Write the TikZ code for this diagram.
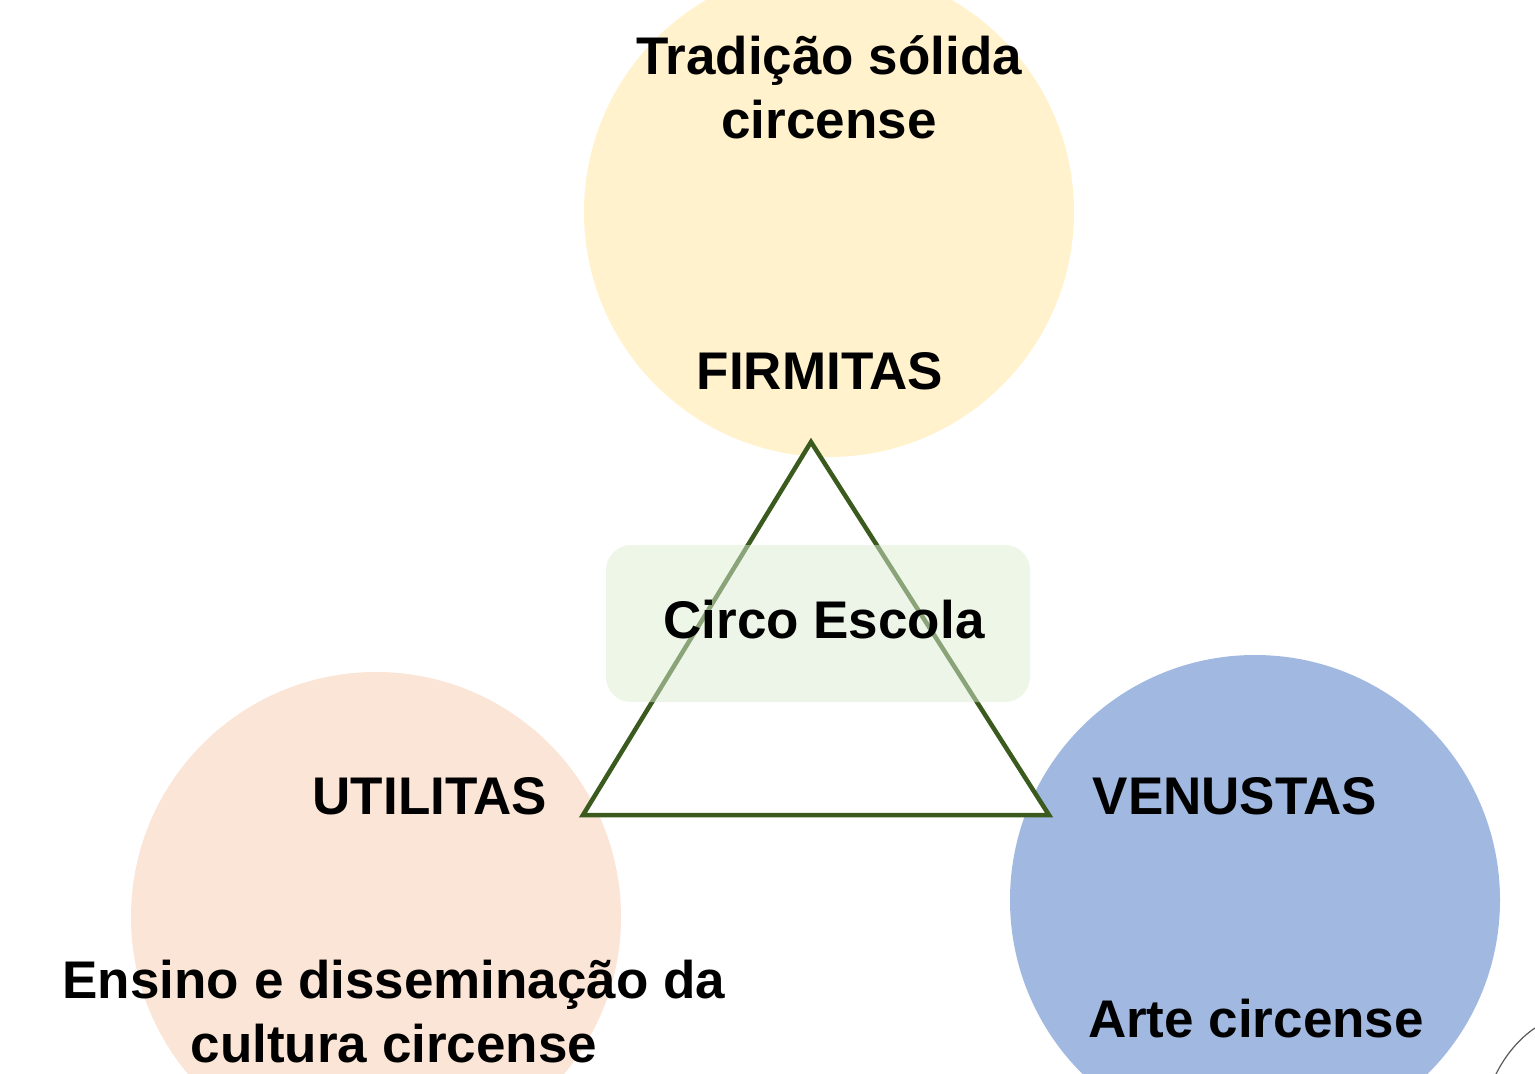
\documentclass[tikz,border=0pt]{standalone}
\usepackage{fontspec}
\setmainfont{Liberation Sans}
\begin{document}
\begin{tikzpicture}[x=1pt,y=-1pt,
  disc/.style={circle,minimum size=490pt,inner sep=0pt,draw=none},
  lbl/.style={font=\fontsize{53}{64}\selectfont\bfseries,align=center,inner sep=0pt,text=black},
  tri/.style={draw=triline,line width=4.5pt,fill=white,line join=miter}]
\definecolor{yel}{HTML}{FFF2CC}
\definecolor{ora}{HTML}{FBE5D6}
\definecolor{blu}{HTML}{A1B8E1}
\definecolor{triline}{HTML}{3A5A1E}
\definecolor{boxfill}{HTML}{DDEDD2}
\useasboundingbox (0,0) rectangle (1535,1074);
\clip (0,0) rectangle (1535,1074);
% circles
\node[disc,fill=yel] (cfirm) at (829,212) {};
\node[disc,fill=ora] (cutil) at (376,917) {};
\node[disc,fill=blu] (cvenu) at (1255,900) {};
% triangle
\coordinate (ta) at (811,442);
\coordinate (tl) at (583,815);
\coordinate (tr) at (1049,815);
\draw[tri] (ta) -- (tl) -- (tr) -- cycle;
% central box
\node[draw=none,fill=boxfill,fill opacity=0.5,rounded corners=25pt,minimum width=424pt,minimum height=157pt,inner sep=0pt] (box) at (818,623.5) {};
\node[lbl] (circo) at (824,620) {Circo Escola};
% labels
\node[lbl] (trad) at (829,87) {Tradição sólida\\circense};
\node[lbl] (firm) at (820,371) {FIRMITAS};
\node[lbl] (util) at (430,796) {UTILITAS};
\node[lbl] (venu) at (1235,796) {VENUSTAS};
\node[lbl] (ensi) at (394,1012) {Ensino e disseminação da\\cultura circense};
\node[lbl] (arte) at (1256,1019) {Arte circense};
% corner fragment
\coordinate (fa) at (1496,1074);
\coordinate (fb) at (1535,1028);
\draw[gray!70!black,line width=1.2pt] (fa) .. controls (1506,1054) and (1520,1038) .. (fb);
\end{tikzpicture}
\end{document}
